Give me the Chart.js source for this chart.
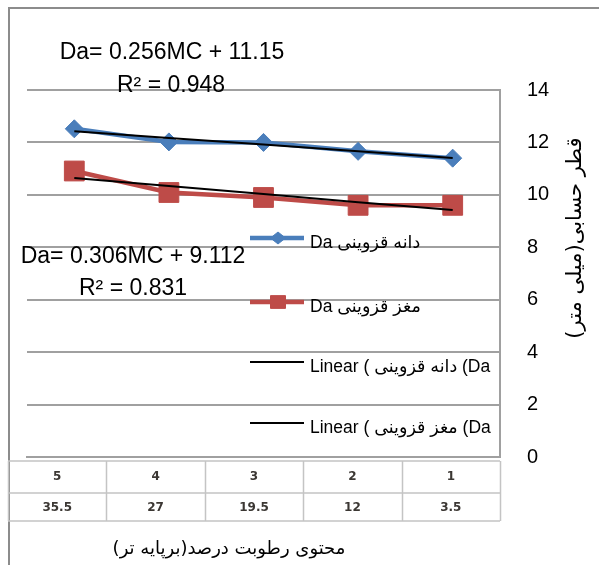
<!DOCTYPE html>
<html>
<head>
<meta charset="utf-8">
<script src="https://cdn.jsdelivr.net/npm/chart.js@4.4.1/dist/chart.umd.min.js"></script>
<style>
html,body{margin:0;padding:0;background:#ffffff;}
#wrap{width:599px;height:565px;position:relative;}
canvas{display:block;}
</style>
</head>
<body>
<div id="wrap"><canvas id="c" width="599" height="565"></canvas></div>
<script>
// ---- data (category order 1..5; x axis is drawn reversed) ----
const categories = ['1', '2', '3', '4', '5'];
const moistureContent = ['3.5', '12', '19.5', '27', '35.5'];
const grainDa = [11.40, 11.66, 12.00, 12.02, 12.52];
const kernelDa = [9.60, 9.60, 9.90, 10.09, 10.91];
const grainTrend = [11.41, 11.66, 11.92, 12.17, 12.43];
const kernelTrend = [9.42, 9.72, 10.03, 10.34, 10.64];
const seriesNames = ['Da دانه قزوینی', 'Da مغز قزوینی', 'Linear ( دانه قزوینی (Da', 'Linear ( مغز قزوینی (Da'];
const equationLines = ['Da= 0.256MC + 11.15', 'R² = 0.948', 'Da= 0.306MC + 9.112', 'R² = 0.831'];
const xTitle = 'محتوی رطوبت درصد(برپایه تر)';
const yTitle = 'قطر حسابی(میلی متر)';

const BLUE = '#4a7ebb';
const RED = '#be4b48';
const GRID = '#a0a0a0';
const LATIN = "'Liberation Sans', 'DejaVu Sans', sans-serif";
const ARAB = "'DejaVu Sans', 'Liberation Sans', sans-serif";

function drawMarker(ctx, style, r, x, y) {
  if (style === 'rectRot') {
    ctx.moveTo(x - r, y); ctx.lineTo(x, y - r * 0.8); ctx.lineTo(x + r, y); ctx.lineTo(x, y + r * 0.8); ctx.closePath();
  } else {
    ctx.rect(x - r, y - r * 0.85, 2 * r, 1.7 * r);
  }
}

const decorPlugin = {
  id: 'decor',
  beforeDraw(chart) {
    const ctx = chart.ctx;
    ctx.save();
    ctx.fillStyle = '#ffffff';
    ctx.fillRect(0, 0, chart.width, chart.height);
    ctx.strokeStyle = '#8c8c8c';
    ctx.lineWidth = 2;
    ctx.beginPath();
    ctx.moveTo(9, chart.height);
    ctx.lineTo(9, 8);
    ctx.lineTo(chart.width, 8);
    ctx.stroke();
    ctx.restore();
  },
  afterDraw(chart) {
    const ctx = chart.ctx;
    const area = chart.chartArea;
    ctx.save();

    // ---- data table under the plot ----
    const tLeft = 8, tRight = area.right;
    const rows = [461, 493, 521];
    ctx.strokeStyle = '#c4c4c4';
    ctx.lineWidth = 1.5;
    ctx.beginPath();
    rows.forEach(y => { ctx.moveTo(tLeft, y); ctx.lineTo(tRight, y); });
    const n = categories.length;
    const colW = (tRight - tLeft) / n;
    for (let i = 0; i <= n; i++) {
      const x = Math.round(tLeft + i * colW) + 0.5;
      ctx.moveTo(x, rows[0]); ctx.lineTo(x, rows[2]);
    }
    ctx.stroke();
    ctx.fillStyle = '#3b3733';
    ctx.font = "bold 12px 'DejaVu Sans', sans-serif";
    ctx.textAlign = 'center';
    ctx.textBaseline = 'middle';
    for (let i = 0; i < n; i++) {
      const idx = n - 1 - i;
      const cx = tLeft + (i + 0.5) * colW;
      ctx.fillText(categories[idx], cx, 477);
      ctx.fillText(moistureContent[idx], cx, 508);
    }

    // ---- x axis title ----
    ctx.fillStyle = '#000';
    ctx.font = '18px ' + ARAB;
    ctx.direction = 'rtl';
    ctx.textAlign = 'center';
    ctx.textBaseline = 'middle';
    ctx.fillText(xTitle, 229, 549);

    // ---- y axis title (rotated) ----
    ctx.save();
    ctx.translate(576, 238);
    ctx.rotate(-Math.PI / 2);
    ctx.font = '21px ' + ARAB;
    ctx.fillText(yTitle, 0, 0);
    ctx.restore();
    ctx.direction = 'ltr';

    // ---- trendline equations ----
    ctx.font = '23px ' + LATIN;
    ctx.textAlign = 'center';
    ctx.textBaseline = 'alphabetic';
    ctx.fillText(equationLines[0], 172, 59);
    ctx.fillText(equationLines[1], 171, 92);
    ctx.fillText(equationLines[2], 133, 263);
    ctx.fillText(equationLines[3], 133, 295);

    // ---- legend ----
    const legendY = [238, 302, 362, 423];
    chart.data.datasets.forEach((d, i) => {
      const y = legendY[i];
      ctx.strokeStyle = d.borderColor;
      ctx.lineWidth = d.borderWidth;
      ctx.lineCap = 'butt';
      ctx.beginPath();
      ctx.moveTo(250, y);
      ctx.lineTo(304, y);
      ctx.stroke();
      if (d.pointRadius > 0) {
        ctx.fillStyle = d.pointBackgroundColor;
        ctx.strokeStyle = d.pointBorderColor;
        ctx.lineWidth = 1;
        ctx.beginPath();
        drawMarker(ctx, d.pointStyle, 7.5, 278, y);
        ctx.fill();
        ctx.stroke();
      }
      ctx.fillStyle = '#000';
      ctx.font = '17.5px ' + LATIN;
      ctx.textAlign = 'left';
      ctx.textBaseline = 'middle';
      ctx.fillText(d.label, 310, y + 5);
    });
    ctx.restore();
  }
};

const chart = new Chart(document.getElementById('c'), {
  type: 'line',
  data: {
    labels: categories,
    datasets: [
      { label: seriesNames[0], data: grainDa, borderColor: BLUE, backgroundColor: BLUE,
        pointBackgroundColor: BLUE, pointBorderColor: BLUE, borderWidth: 4.5,
        pointStyle: 'rectRot', pointRadius: 9, pointBorderWidth: 1, order: 2, tension: 0 },
      { label: seriesNames[1], data: kernelDa, borderColor: RED, backgroundColor: RED,
        pointBackgroundColor: RED, pointBorderColor: RED, borderWidth: 4.5,
        pointStyle: 'rect', pointRadius: 14, pointBorderWidth: 1, order: 3, tension: 0 },
      { label: seriesNames[2], data: grainTrend, borderColor: '#000', backgroundColor: '#000',
        borderWidth: 2, pointRadius: 0, order: 0, tension: 0 },
      { label: seriesNames[3], data: kernelTrend, borderColor: '#000', backgroundColor: '#000',
        borderWidth: 2, pointRadius: 0, order: 1, tension: 0 }
    ]
  },
  options: {
    responsive: false,
    animation: false,
    devicePixelRatio: 1,
    layout: { padding: { left: 27, top: 90, right: 0, bottom: 0 } },
    plugins: { legend: { display: false }, tooltip: { enabled: false }, title: { display: false } },
    scales: {
      x: {
        reverse: true,
        offset: true,
        grid: { display: false },
        border: { display: true, color: GRID, width: 2 },
        ticks: { display: false },
        afterFit(s) { s.height = 108; }
      },
      y: {
        position: 'right',
        min: 0, max: 14,
        ticks: { stepSize: 2, padding: 27, color: '#000', font: { family: LATIN, size: 20 } },
        grid: { color: GRID, lineWidth: 2, drawTicks: false },
        border: { display: true, color: GRID, width: 2 },
        afterFit(s) { s.width = 99; }
      }
    }
  },
  plugins: [decorPlugin]
});
</script>
</body>
</html>
